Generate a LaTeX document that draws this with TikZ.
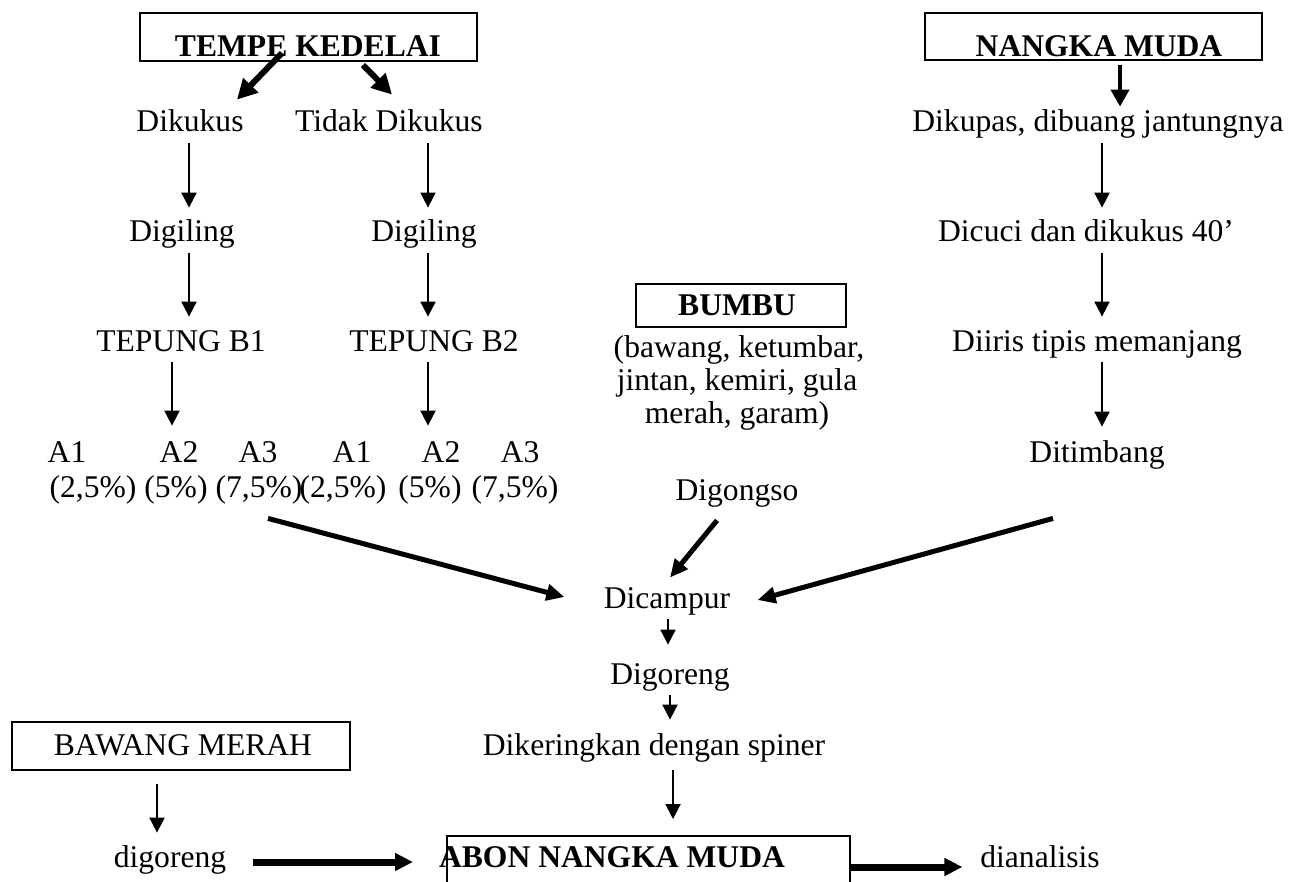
\documentclass[tikz,border=0pt]{standalone}
\usepackage{fontspec}
\setmainfont{Liberation Serif}
\usetikzlibrary{arrows.meta,calc}
\begin{document}
\begin{tikzpicture}[x=0.5pt,y=-0.5pt,
  txt/.style={font=\fontsize{15.8}{19}\selectfont, anchor=base, inner xsep=1.5pt, inner ysep=1.5pt, text height=11pt, text depth=4pt},
  bld/.style={txt, font=\fontsize{15.8}{19}\selectfont\bfseries},
  boxed/.style={draw, line width=1pt, inner sep=0pt},
  tarr/.style={-{Triangle[length=7.5pt,width=7.5pt]}, line width=1pt, shorten >=4.5pt},
  karr/.style={-{Triangle[length=10pt,width=10pt]}, line width=3pt},
  narr/.style={-{Triangle[length=8.5pt,width=9pt]}, line width=2pt},
  darr/.style={-{Triangle[length=9pt,width=8pt]}, line width=2.5pt},
  harr/.style={-{Triangle[length=9pt,width=8.5pt]}, line width=3.5pt},
]
\useasboundingbox (0,0) rectangle (1299,882);
\fill[white] (0,0) rectangle (1299,882);
\clip (0,0) rectangle (1299,882);

% boxes
\node[boxed, minimum width=168.5pt, minimum height=24pt] (tempebox) at (308.5,37) {};
\node[bld] (tempe) at (308,57) {TEMPE KEDELAI};
\node[boxed, minimum width=168.5pt, minimum height=23.5pt] (nangkabox) at (1093.5,36.5) {};
\node[bld] (nangka) at (1099,57) {NANGKA MUDA};
\node[boxed, minimum width=105pt, minimum height=21.5pt] (bumbubox) at (741,305.5) {};
\node[bld] (bumbu) at (737,315) {BUMBU};
\node[boxed, minimum width=169pt, minimum height=24pt] (bawangbox) at (181,746) {};
\node[txt] (bawang) at (183,755) {BAWANG MERAH};
\node[boxed, minimum width=201.5pt, minimum height=42pt] (abonbox) at (648.5,878) {};
\node[bld] (abon) at (612,867) {ABON NANGKA MUDA};

% texts
\node[txt] (dikukus) at (190,132) {Dikukus};
\node[txt] (tidak) at (389,132) {Tidak Dikukus};
\node[txt] (dikupas) at (1098,132) {Dikupas, dibuang jantungnya};
\node[txt] (dig1) at (182,242) {Digiling};
\node[txt] (dig2) at (424,242) {Digiling};
\node[txt] (dicuci) at (1086,242) {Dicuci dan dikukus 40’};
\node[txt] (tep1) at (181,351) {TEPUNG B1};
\node[txt] (tep2) at (434,351) {TEPUNG B2};
\node[txt] (diiris) at (1097,351) {Diiris tipis memanjang};
\node[txt] (bb1) at (739,357) {(bawang, ketumbar,};
\node[txt] (bb2) at (737,390) {jintan, kemiri, gula};
\node[txt] (bb3) at (737,423) {merah, garam)};

\node[txt] (a1a) at (67,462) {A1};
\node[txt] (a2a) at (179,462) {A2};
\node[txt] (a3a) at (258,462) {A3};
\node[txt] (a1b) at (352,462) {A1};
\node[txt] (a2b) at (441,462) {A2};
\node[txt] (a3b) at (520,462) {A3};
\node[txt] (p1a) at (93,497) {(2,5\%)};
\node[txt] (p2a) at (176,497) {(5\%)};
\node[txt] (p3a) at (259,497) {(7,5\%)};
\node[txt] (p1b) at (343,497) {(2,5\%)};
\node[txt] (p2b) at (430,497) {(5\%)};
\node[txt] (p3b) at (515,497) {(7,5\%)};
\node[txt] (ditimbang) at (1097,462) {Ditimbang};
\node[txt] (digongso) at (737,500) {Digongso};
\node[txt] (dicampur) at (667,608) {Dicampur};
\node[txt] (digoreng) at (670,684) {Digoreng};
\node[txt] (dikeringkan) at (654,755) {Dikeringkan dengan spiner};
\node[txt] (digoreng2) at (170,867) {digoreng};
\node[txt] (dianalisis) at (1040,867) {dianalisis};

% tempe branches
\draw[karr] ($(tempe.base)+(-26,-4)$) -- ($(dikukus.north east)+(-10,-7)$);
\draw[karr] ($(tempe.base)+(55,8)$) -- ($(tidak.north)+(3,-12)$);

% left column
\draw[tarr] ($(dikukus.south)+(-1,0)$) -- ($(dikukus.south |- dig1.north)+(-1,0)$);
\draw[tarr] ($(dikukus.south |- dig1.south)+(-1,0)$) -- ($(dikukus.south |- tep1.north)+(-1,0)$);
\draw[tarr, shorten >=5.5pt] ($(tep1.south)+(-9,0)$) -- ($(tep1.south |- a2a.north)+(-9,0)$);

% second column
\draw[tarr] ($(tidak.south -| dig2.north)+(4,0)$) -- ($(dig2.north)+(4,0)$);
\draw[tarr] ($(dig2.south)+(4,0)$) -- ($(dig2.south |- tep2.north)+(4,0)$);
\draw[tarr, shorten >=5.5pt] ($(tep2.south)+(-6,0)$) -- ($(tep2.south |- a2b.north)+(-6,0)$);

% nangka column
\draw[narr] ($(nangka.base)+(21,8)$) -- ($(nangka.base |- dikupas.north)+(21,0)$);
\draw[tarr] ($(dikupas.south)+(4,0)$) -- ($(dikupas.south |- dicuci.north)+(4,0)$);
\draw[tarr] ($(dikupas.south |- dicuci.south)+(4,0)$) -- ($(dikupas.south |- diiris.north)+(4,0)$);
\draw[tarr, shorten >=5pt] ($(dikupas.south |- diiris.south)+(4,0)$) -- ($(dikupas.south |- ditimbang.north)+(4,0)$);

% into Dicampur
\draw[darr] ($(p3a.south)+(9,10)$) -- ($(dicampur.west)+(-36,-4)$);
\draw[darr] ($(ditimbang.south)+(-44,45)$) -- ($(dicampur.east)+(24,-1)$);
\draw[darr] ($(digongso.south)+(-20,9)$) -- ($(dicampur.north)+(3,-5)$);

% lower chain
\draw[tarr, shorten >=7pt] ($(dicampur.south)+(1,0)$) -- ($(dicampur.south |- digoreng.north)+(1,0)$);
\draw[tarr, shorten >=5pt] (digoreng.south) -- (digoreng.south |- dikeringkan.north);
\draw[tarr, shorten <=2pt, shorten >=8pt] ($(dikeringkan.south)+(19,0)$) -- ($(dikeringkan.south |- abonbox.north)+(19,0)$);
\draw[tarr, shorten <=6.5pt] ($(bawangbox.south)+(-24,0)$) -- ($(bawangbox.south |- digoreng2.north)+(-24,0)$);
\draw[harr] ($(digoreng2.east)+(23.5,2)$) -- ($(abonbox.west |- digoreng2.east)+(-33,2)$);
\draw[harr, shorten >=7.25pt] (abonbox.east |- abon.base) -- (dianalisis.west |- abon.base);
\end{tikzpicture}
\end{document}
